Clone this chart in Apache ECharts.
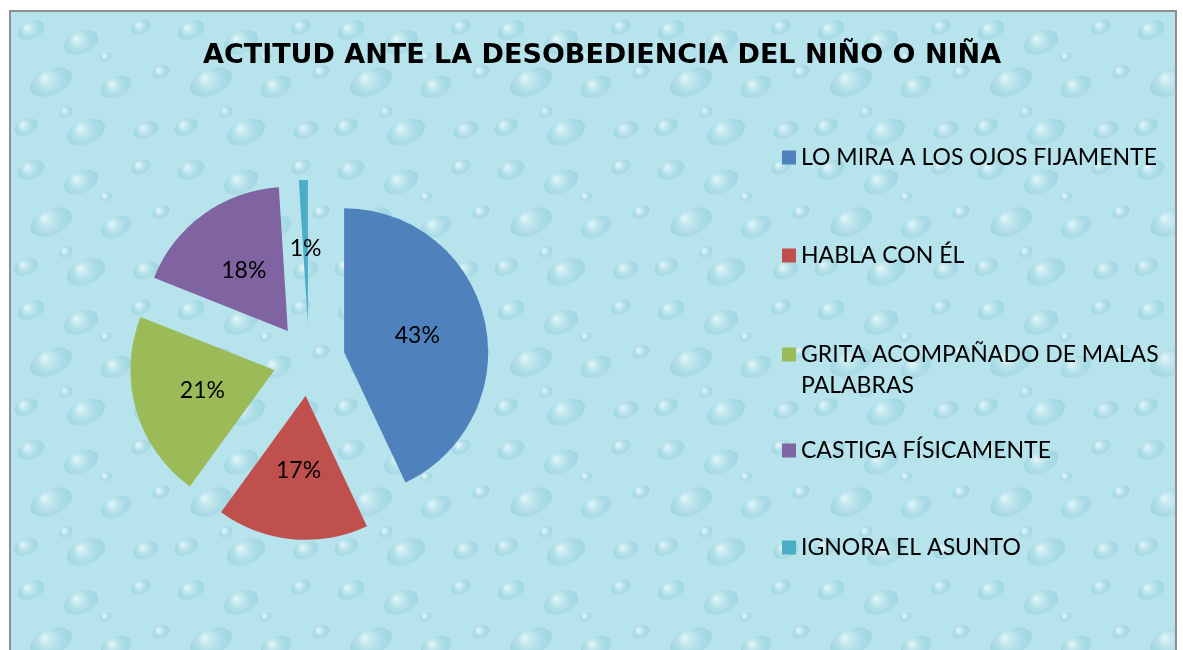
<!DOCTYPE html>
<html>
<head>
<meta charset="utf-8">
<script src="https://cdn.jsdelivr.net/npm/echarts@6/dist/echarts.min.js"></script>
<style>
body { margin: 0; background: #ffffff; }
#frame { position: absolute; left: 9px; top: 10px; width: 1164px; height: 660px; border: 2px solid #8e8e8e; background: #b9e5ed; }
#main { position: absolute; left: 0; top: 0; width: 1183px; height: 650px; }
</style>
</head>
<body>
<div id="frame"></div>
<div id="main"></div>
<script>
// datos del grafico
var titulo = 'ACTITUD ANTE LA DESOBEDIENCIA DEL NIÑO O NIÑA';
var categorias = ['LO MIRA A LOS OJOS FIJAMENTE', 'HABLA CON ÉL', 'GRITA ACOMPAÑADO DE MALAS PALABRAS', 'CASTIGA FÍSICAMENTE', 'IGNORA EL ASUNTO'];
var porcentajes = [43, 17, 21, 18, 1];
var colores = ['#4f81bd', '#c0504d', '#9bbb59', '#8064a2', '#4bacc6'];
var leyendaTop = [137, 235, 303, 430, 527];

// fondo con gotas (decorativo)
function fondoGotas() {
    var c = document.createElement('canvas');
    c.width = 160; c.height = 140;
    var g = c.getContext('2d');
    g.fillStyle = '#b7e3ec';
    g.fillRect(0, 0, 160, 140);
    var gotas = [[20,18,14,9],[70,30,18,11],[130,15,10,7],[40,70,22,13],[105,75,16,10],[150,60,9,6],[15,115,12,8],[75,120,20,12],[135,118,13,8],[95,45,6,4],[55,100,7,5]];
    gotas.forEach(function (d) {
        var grd = g.createRadialGradient(d[0]-d[2]*0.3, d[1]-d[3]*0.3, 1, d[0], d[1], d[2]);
        grd.addColorStop(0, 'rgba(232,248,251,0.8)');
        grd.addColorStop(0.6, 'rgba(160,214,225,0.5)');
        grd.addColorStop(1, 'rgba(130,198,212,0.45)');
        g.fillStyle = grd;
        g.beginPath();
        g.ellipse(d[0], d[1], d[2], d[3], -0.4, 0, Math.PI * 2);
        g.fill();
    });
    return c;
}
document.getElementById('frame').style.background = 'url(' + fondoGotas().toDataURL() + ')';

var myChart = echarts.init(document.getElementById('main'));

var datos = categorias.map(function (n, i) {
    return { name: n, value: porcentajes[i], selected: true, itemStyle: { color: colores[i] } };
});

var leyendas = categorias.map(function (n, i) {
    return {
        data: [n],
        orient: 'vertical',
        left: 777,
        top: leyendaTop[i],
        icon: 'rect',
        itemWidth: 14,
        itemHeight: 14,
        itemGap: 0,
        selectedMode: false,
        formatter: function (name) {
            //el icono va con la primera linea
            if (name === 'GRITA ACOMPAÑADO DE MALAS PALABRAS') return '{e| }\n{a|GRITA ACOMPAÑADO DE MALAS}\n{a|PALABRAS}';
            return '{a|' + name + '}';
        },
        textStyle: {
            fontFamily: 'Lato', fontSize: 23, color: '#000', lineHeight: 31,
            rich: {
                a: { fontFamily: 'Lato', fontSize: 23, color: '#000', lineHeight: 31 },
                e: { fontFamily: 'Lato', fontSize: 23, lineHeight: 31, height: 31 }
            }
        }
    };
});

option = {
    animation: false,
    title: {
        text: titulo,
        left: 198,
        top: 37,
        textStyle: { fontFamily: 'DejaVu Sans', fontWeight: 'bold', fontSize: 27, color: '#000' }
    },
    legend: leyendas,
    series: [{
        type: 'pie',
        center: [309, 360],
        radius: 144,
        startAngle: 90,
        clockwise: true,
        selectedMode: 'multiple',
        selectedOffset: 36,
        emphasis: { disabled: true },
        label: {
            show: true,
            position: 'inside',
            formatter: '{d}%',
            fontFamily: 'Lato',
            fontSize: 23,
            color: '#000'
        },
        labelLine: { show: false },
        data: datos
    }]
};

myChart.setOption(option);
</script>
</body>
</html>
